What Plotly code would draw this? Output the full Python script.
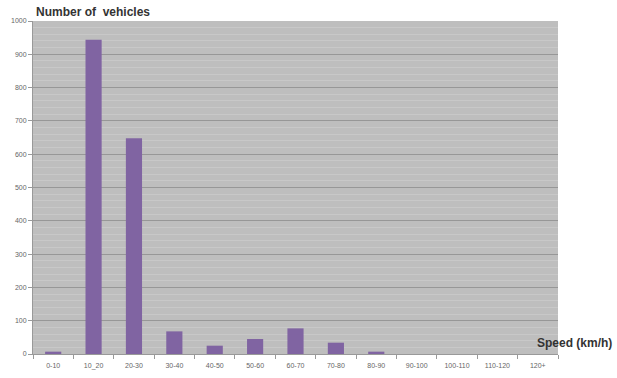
import plotly.graph_objects as go

speed_bins = ["0-10", "10_20", "20-30", "30-40", "40-50", "50-60", "60-70",
              "70-80", "80-90", "90-100", "100-110", "110-120", "120+"]
vehicle_counts = [7, 944, 648, 68, 25, 45, 77, 34, 7, 0, 0, 0, 0]
y_ticks = [0, 100, 200, 300, 400, 500, 600, 700, 800, 900, 1000]

fig = go.Figure(
    go.Bar(
        x=speed_bins,
        y=vehicle_counts,
        marker=dict(color="#8064a2", line=dict(width=0)),
    )
)

fig.update_layout(
    width=617,
    height=378,
    margin=dict(l=33, r=59, t=21, b=24),
    paper_bgcolor="white",
    plot_bgcolor="#bebebe",
    bargap=0.6,
    showlegend=False,
    font=dict(family="Liberation Sans, Arial, sans-serif", size=7, color="#666666"),
)

fig.update_xaxes(
    type="category",
    automargin=False,
    showgrid=False,
    showline=True,
    linecolor="#999999",
    linewidth=1,
    ticks="outside",
    tickson="boundaries",
    ticklen=4,
    tickcolor="#999999",
    ticklabelstandoff=5,
    tickfont=dict(size=7, color="#666666"),
)

fig.update_yaxes(
    range=[0, 1000],
    tickvals=y_ticks,
    automargin=False,
    showgrid=True,
    gridcolor="#979797",
    gridwidth=1,
    minor=dict(dtick=20, showgrid=True, gridcolor="#c8c8c8", gridwidth=1),
    showline=True,
    linecolor="#999999",
    ticks="outside",
    ticklen=4,
    tickcolor="#999999",
    tickfont=dict(size=7, color="#666666"),
    zeroline=False,
)

fig.add_annotation(
    text="<b>Number of  vehicles</b>", xref="paper", yref="paper",
    x=0.0, y=1.0, xanchor="left", yanchor="bottom", yshift=0, xshift=1,
    showarrow=False, font=dict(size=12, color="#333333"),
)
fig.add_annotation(
    text="<b>Speed (km/h)</b>", xref="paper", yref="paper",
    x=1.0, y=0.0, xanchor="left", yanchor="bottom", xshift=-23, yshift=2,
    showarrow=False, font=dict(size=12, color="#333333"),
)

fig.write_html("out.html")
